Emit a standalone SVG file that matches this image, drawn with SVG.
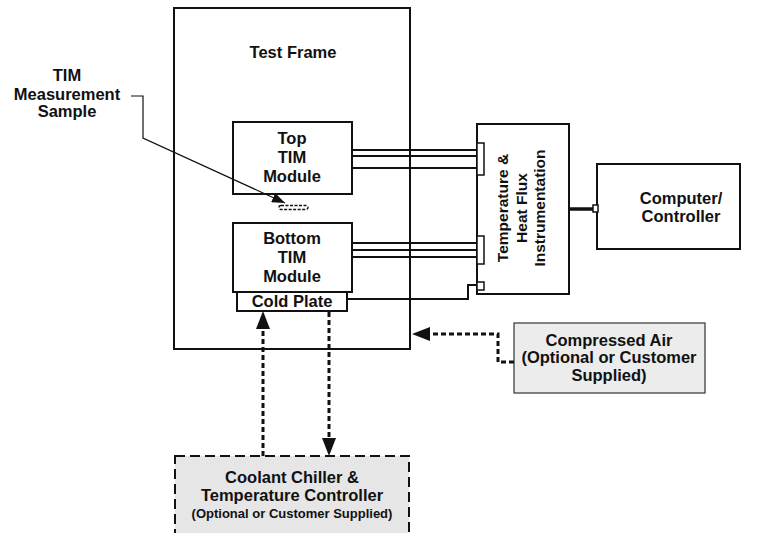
<svg xmlns="http://www.w3.org/2000/svg" width="765" height="533" viewBox="0 0 765 533">
<style>
  text { font-family: "Liberation Sans", Arial, sans-serif; font-weight: bold; fill: #111; text-anchor: middle; }
  .lbl { font-size: 16.5px; }
  .rot { font-size: 15.5px; }
  .sm { font-size: 13px; }
  .box { fill: #fff; stroke: #111; stroke-width: 2; }
  .cable { fill: none; stroke: #111; stroke-width: 2; }
  .dash { fill: none; stroke: #111; stroke-width: 3; stroke-dasharray: 5 3; }
  .tab { fill: #fff; stroke: #111; stroke-width: 1.5; }
</style>
<defs>
  <marker id="ah" markerWidth="13" markerHeight="10" refX="13" refY="5" orient="auto" markerUnits="userSpaceOnUse" viewBox="0 0 13 10">
    <path d="M0,0 L13,5 L0,10 Z" fill="#111"/>
  </marker>
</defs>

<g id="test-frame">
  <rect x="174" y="8" width="236" height="341" fill="#fff" stroke="#111" stroke-width="2"/>
  <text class="lbl" x="293" y="58">Test Frame</text>
</g>

<g id="tim-label">
  <text class="lbl" x="67" y="81">TIM</text>
  <text class="lbl" x="67" y="100">Measurement</text>
  <text class="lbl" x="67" y="117">Sample</text>
</g>

<g id="top-tim-module">
  <rect class="box" x="233" y="122" width="119" height="72"/>
  <text class="lbl" x="292" y="144">Top</text>
  <text class="lbl" x="292" y="163">TIM</text>
  <text class="lbl" x="292" y="182">Module</text>
</g>

<g id="sample">
  <rect x="279" y="205.5" width="29" height="4" rx="2" fill="none" stroke="#111" stroke-width="1.4" stroke-dasharray="3 1.5"/>
</g>

<g id="bottom-tim-module">
  <rect class="box" x="233" y="223" width="119" height="69"/>
  <text class="lbl" x="292" y="244">Bottom</text>
  <text class="lbl" x="292" y="263">TIM</text>
  <text class="lbl" x="292" y="282">Module</text>
</g>

<g id="cold-plate">
  <rect class="box" x="237" y="292" width="110" height="19"/>
  <text class="lbl" x="292" y="306.5">Cold Plate</text>
</g>

<g id="instrumentation">
  <rect class="box" x="477" y="124" width="92" height="170"/>
  <rect class="tab" x="477" y="143" width="7" height="32"/>
  <rect class="tab" x="477" y="236" width="7" height="28"/>
  <rect class="tab" x="477" y="282" width="7" height="8"/>
  <g transform="translate(523,208) rotate(-90)">
    <text class="rot" x="0" y="-15">Temperature &amp;</text>
    <text class="rot" x="0" y="3.5">Heat Flux</text>
    <text class="rot" x="0" y="22">Instrumentation</text>
  </g>
</g>

<g id="computer">
  <rect class="box" x="597" y="164" width="143" height="85"/>
  <text class="lbl" x="681" y="204">Computer/</text>
  <text class="lbl" x="681" y="222">Controller</text>
</g>

<g id="compressed-air">
  <rect x="514" y="323" width="191" height="70" fill="#ececec" stroke="#333" stroke-width="1.2"/>
  <text class="lbl" x="609" y="346">Compressed Air</text>
  <text class="lbl" x="609" y="363">(Optional or Customer</text>
  <text class="lbl" x="609" y="381">Supplied)</text>
</g>

<g id="coolant">
  <rect x="175" y="456" width="234" height="100" fill="#e6e6e6" stroke="#111" stroke-width="2" stroke-dasharray="10 5"/>
  <text class="lbl" x="292" y="483">Coolant Chiller &amp;</text>
  <text class="lbl" x="292" y="501">Temperature Controller</text>
  <text class="sm" x="292" y="518">(Optional or Customer Supplied)</text>
</g>

<g id="connectors">
  <!-- TIM sample leader -->
  <polyline points="131,96 143,96 143,138 285,203" fill="none" stroke="#111" stroke-width="1.2" marker-end="url(#ah)"/>
  <!-- top module cables -->
  <line class="cable" x1="352" y1="150" x2="477" y2="150"/>
  <line class="cable" x1="352" y1="156" x2="477" y2="156"/>
  <line class="cable" x1="352" y1="168" x2="477" y2="168"/>
  <!-- bottom module cables -->
  <line class="cable" x1="352" y1="243" x2="477" y2="243"/>
  <line class="cable" x1="352" y1="250" x2="477" y2="250"/>
  <line class="cable" x1="352" y1="257" x2="477" y2="257"/>
  <!-- cold plate to instrumentation -->
  <polyline class="cable" points="347,299 468,299 468,285 477,285"/>
  <!-- instrumentation to computer -->
  <line x1="569" y1="209" x2="594" y2="209" stroke="#111" stroke-width="3.5"/>
  <rect class="tab" x="593" y="205" width="5" height="7"/>
  <!-- compressed air -->
  <polyline class="dash" points="514,362 498,362 498,334 430,334"/>
  <path d="M430,327 L412,334 L430,341 Z" fill="#111"/>
  <!-- coolant supply up -->
  <line class="dash" x1="263" y1="456" x2="263" y2="329"/>
  <path d="M256,329 L263,311 L270,329 Z" fill="#111"/>
  <!-- coolant return down -->
  <line class="dash" x1="329" y1="312" x2="329" y2="438"/>
  <path d="M322,438 L329,456 L336,438 Z" fill="#111"/>
</g>
</svg>
